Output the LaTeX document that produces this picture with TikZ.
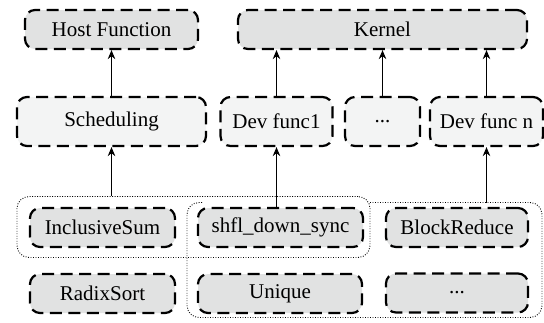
\documentclass[tikz,border=0pt]{standalone}
\usepackage{fontspec}
\setmainfont{Liberation Serif}
\usetikzlibrary{arrows.meta}
\definecolor{boxgray}{HTML}{E1E2E2}
\definecolor{boxlight}{HTML}{F3F4F4}
\tikzset{
  blk/.style={draw=black, line width=2.2pt, dash pattern=on 12pt off 6.5pt,
    rounded corners=10pt, inner sep=0pt, font=\fontsize{21}{25}\selectfont},
  topbox/.style={blk, fill=boxgray, minimum height=39pt},
  midbox/.style={blk, fill=boxlight, minimum height=49pt},
  libbox/.style={blk, fill=boxgray, minimum height=39pt},
  group/.style={draw=black, line width=0.9pt, dash pattern=on 0.9pt off 1.6pt, rounded corners=12pt},
  arr/.style={draw=black, line width=1.2pt, -{Stealth[length=9pt,width=7.5pt]}}
}
\begin{document}
\begin{tikzpicture}[x=1pt,y=-1pt]
\useasboundingbox (0,0) rectangle (544,322);

% dotted groupings of library routines
\node[group, minimum width=353pt, minimum height=61pt] (grpA) at (193.5,227) {};
\draw[group] (202,202.5) -- (187,202.5) -- (187,317.5) -- (542,317.5) -- (542,202.5) -- (370,202.5);
\coordinate (grpBtop) at (486.5,202.5);

% host and kernel level
\node[topbox, minimum width=173pt] (host) at (111.5,29.5) {Host Function};
\node[topbox, minimum width=289pt] (kernel) at (382.5,29.5) {Kernel};

% scheduling and device functions
\node[midbox, minimum width=189pt] (sched) at (111.5,121.5) {Scheduling};
\node[midbox, minimum width=112pt] (devf1) at (276.5,121.5) {Dev func1};
\node[midbox, minimum width=75pt] (devfd) at (382.5,121.5) {...};
\node[midbox, minimum width=113pt] (devfn) at (486.5,121.5) {Dev func n};

% library primitives
\node[libbox, minimum width=145pt] (incl) at (102.5,227.5) {InclusiveSum};
\node[libbox, minimum width=145pt] (radix) at (102.5,293.5) {RadixSort};
\node[libbox, minimum width=165pt] (shfl) at (280.5,227.5) {shfl\_down\_sync};
\node[libbox, minimum width=164pt] (uniq) at (280,293.5) {Unique};
\node[libbox, minimum width=142pt] (bred) at (457,227.5) {BlockReduce};
\node[libbox, minimum width=142pt] (libd) at (457,293) {...};

% dependencies
\draw[arr] (sched.north) -- (host.south);
\draw[arr] (devf1.north) -- (devf1.north |- kernel.south);
\draw[arr] (devfd.north) -- (devfd.north |- kernel.south);
\draw[arr] (devfn.north) -- (devfn.north |- kernel.south);
\draw[arr] (grpA.north -| sched) -- (sched.south);
\draw[arr] (shfl.north -| devf1) -- (devf1.south);
\draw[arr] (grpBtop) -- (devfn.south);
\end{tikzpicture}
\end{document}
